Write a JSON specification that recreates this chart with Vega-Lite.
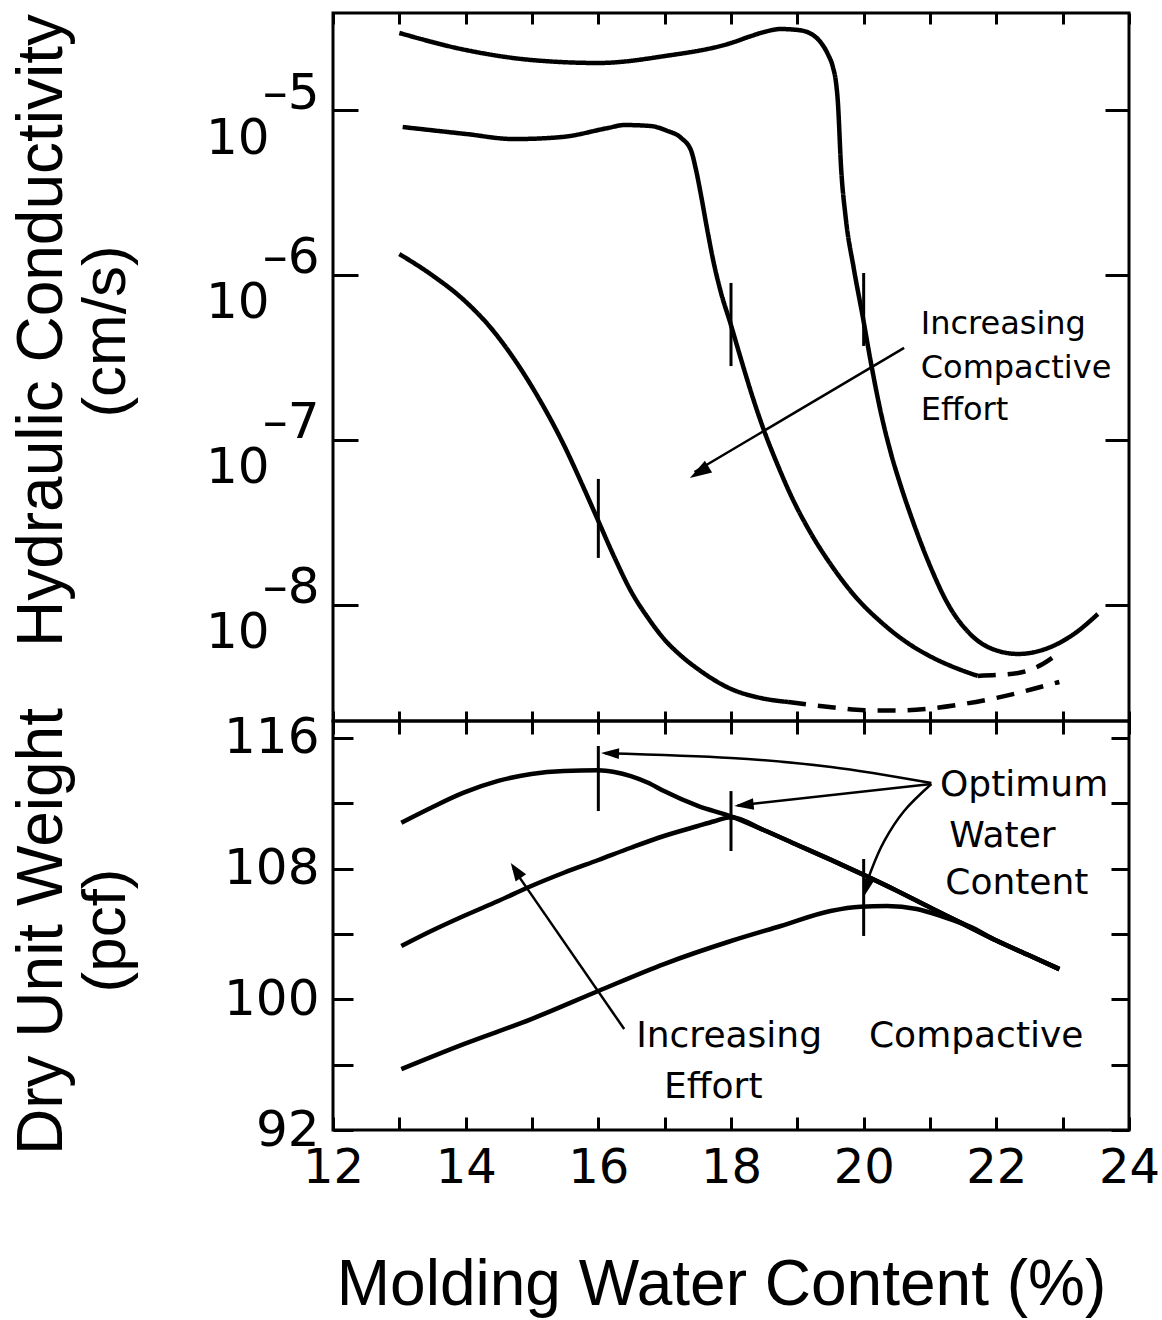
{
  "$schema": "https://vega.github.io/schema/vega-lite/v6.json",
  "padding": {"left": 8, "top": 10, "right": 10, "bottom": 5},
  "spacing": 0,
  "bounds": "flush",
  "config": {
    "view": {"stroke": "black", "strokeWidth": 3},
    "axis": {
      "domain": false, "grid": false, "tickColor": "black", "tickWidth": 3,
      "labelFont": "DejaVu Sans", "labelFontSize": 50, "labelColor": "black",
      "labelFlush": false, "labelOverlap": false, "labelBound": false,
      "titleFont": "Liberation Sans", "titleFontSize": 64, "titleFontWeight": "normal", "titleColor": "black"
    }
  },
  "datasets": {
    "kcurves": [
      {"curve": "c20", "part": "solid", "water": 13.0, "k": 2.931e-5},
      {"curve": "c20", "part": "solid", "water": 14.0, "k": 2.312e-5},
      {"curve": "c20", "part": "solid", "water": 15.0, "k": 2.009e-5},
      {"curve": "c20", "part": "solid", "water": 16.0, "k": 1.928e-5},
      {"curve": "c20", "part": "solid", "water": 17.0, "k": 2.123e-5},
      {"curve": "c20", "part": "solid", "water": 18.0, "k": 2.548e-5},
      {"curve": "c20", "part": "solid", "water": 18.3, "k": 2.805e-5},
      {"curve": "c20", "part": "solid", "water": 18.5, "k": 2.972e-5},
      {"curve": "c20", "part": "solid", "water": 18.75, "k": 3.097e-5},
      {"curve": "c20", "part": "solid", "water": 19.01, "k": 3.055e-5},
      {"curve": "c20", "part": "solid", "water": 19.21, "k": 2.891e-5},
      {"curve": "c20", "part": "solid", "water": 19.36, "k": 2.547e-5},
      {"curve": "c20", "part": "solid", "water": 19.46, "k": 2.183e-5},
      {"curve": "c20", "part": "solid", "water": 19.54, "k": 1.799e-5},
      {"curve": "c20", "part": "solid", "water": 19.58, "k": 1.5e-5},
      {"curve": "c20", "part": "solid", "water": 19.61, "k": 1.135e-5},
      {"curve": "c20", "part": "solid", "water": 19.66, "k": 4.446e-6},
      {"curve": "c20", "part": "solid", "water": 19.73, "k": 2.213e-6},
      {"curve": "c20", "part": "solid", "water": 19.85, "k": 1.102e-6},
      {"curve": "c20", "part": "solid", "water": 19.99, "k": 5.483e-7},
      {"curve": "c20", "part": "solid", "water": 20.11, "k": 2.931e-7},
      {"curve": "c20", "part": "solid", "water": 20.26, "k": 1.459e-7},
      {"curve": "c20", "part": "solid", "water": 20.41, "k": 8.337e-8},
      {"curve": "c20", "part": "solid", "water": 20.56, "k": 5.26e-8},
      {"curve": "c20", "part": "solid", "water": 20.74, "k": 3.228e-8},
      {"curve": "c20", "part": "solid", "water": 20.97, "k": 1.849e-8},
      {"curve": "c20", "part": "solid", "water": 21.27, "k": 1.014e-8},
      {"curve": "c20", "part": "solid", "water": 21.62, "k": 6.577e-9},
      {"curve": "c20", "part": "solid", "water": 22.03, "k": 5.26e-9},
      {"curve": "c20", "part": "solid", "water": 22.33, "k": 5.047e-9},
      {"curve": "c20", "part": "solid", "water": 22.78, "k": 5.483e-9},
      {"curve": "c20", "part": "solid", "water": 23.17, "k": 6.668e-9},
      {"curve": "c20", "part": "solid", "water": 23.53, "k": 8.81e-9},
      {"curve": "c18", "part": "solid", "water": 13.05, "k": 7.889e-6},
      {"curve": "c18", "part": "solid", "water": 14.0, "k": 7.161e-6},
      {"curve": "c18", "part": "solid", "water": 14.73, "k": 6.668e-6},
      {"curve": "c18", "part": "solid", "water": 15.44, "k": 6.855e-6},
      {"curve": "c18", "part": "solid", "water": 16.15, "k": 7.786e-6},
      {"curve": "c18", "part": "solid", "water": 16.39, "k": 8.11e-6},
      {"curve": "c18", "part": "solid", "water": 16.79, "k": 7.998e-6},
      {"curve": "c18", "part": "solid", "water": 17.03, "k": 7.5e-6},
      {"curve": "c18", "part": "solid", "water": 17.25, "k": 6.761e-6},
      {"curve": "c18", "part": "solid", "water": 17.4, "k": 5.649e-6},
      {"curve": "c18", "part": "solid", "water": 17.47, "k": 4.385e-6},
      {"curve": "c18", "part": "solid", "water": 17.55, "k": 3.013e-6},
      {"curve": "c18", "part": "solid", "water": 17.64, "k": 1.901e-6},
      {"curve": "c18", "part": "solid", "water": 17.74, "k": 1.183e-6},
      {"curve": "c18", "part": "solid", "water": 17.85, "k": 7.786e-7},
      {"curve": "c18", "part": "solid", "water": 17.99, "k": 5.117e-7},
      {"curve": "c18", "part": "solid", "water": 18.15, "k": 3.097e-7},
      {"curve": "c18", "part": "solid", "water": 18.33, "k": 1.799e-7},
      {"curve": "c18", "part": "solid", "water": 18.5, "k": 1.135e-7},
      {"curve": "c18", "part": "solid", "water": 18.71, "k": 6.95e-8},
      {"curve": "c18", "part": "solid", "water": 18.9, "k": 4.645e-8},
      {"curve": "c18", "part": "solid", "water": 19.21, "k": 2.692e-8},
      {"curve": "c18", "part": "solid", "water": 19.51, "k": 1.746e-8},
      {"curve": "c18", "part": "solid", "water": 19.88, "k": 1.117e-8},
      {"curve": "c18", "part": "solid", "water": 20.26, "k": 7.888e-9},
      {"curve": "c18", "part": "solid", "water": 20.64, "k": 5.97e-9},
      {"curve": "c18", "part": "solid", "water": 21.02, "k": 4.842e-9},
      {"curve": "c18", "part": "solid", "water": 21.39, "k": 4.15e-9},
      {"curve": "c18", "part": "solid", "water": 21.72, "k": 3.715e-9},
      {"curve": "c18", "part": "dashed", "water": 21.72, "k": 3.715e-9},
      {"curve": "c18", "part": "dashed", "water": 22.33, "k": 3.873e-9},
      {"curve": "c18", "part": "dashed", "water": 22.7, "k": 4.385e-9},
      {"curve": "c18", "part": "dashed", "water": 22.98, "k": 5.26e-9},
      {"curve": "c16", "part": "solid", "water": 13.0, "k": 1.34e-6},
      {"curve": "c16", "part": "solid", "water": 13.49, "k": 1.0e-6},
      {"curve": "c16", "part": "solid", "water": 13.99, "k": 6.95e-7},
      {"curve": "c16", "part": "solid", "water": 14.38, "k": 4.775e-7},
      {"curve": "c16", "part": "solid", "water": 14.73, "k": 3.097e-7},
      {"curve": "c16", "part": "solid", "water": 15.09, "k": 1.824e-7},
      {"curve": "c16", "part": "solid", "water": 15.48, "k": 9.333e-8},
      {"curve": "c16", "part": "solid", "water": 15.78, "k": 5.117e-8},
      {"curve": "c16", "part": "solid", "water": 16.0, "k": 3.228e-8},
      {"curve": "c16", "part": "solid", "water": 16.24, "k": 1.954e-8},
      {"curve": "c16", "part": "solid", "water": 16.49, "k": 1.216e-8},
      {"curve": "c16", "part": "solid", "water": 16.75, "k": 8.337e-9},
      {"curve": "c16", "part": "solid", "water": 16.99, "k": 6.223e-9},
      {"curve": "c16", "part": "solid", "water": 17.25, "k": 4.909e-9},
      {"curve": "c16", "part": "solid", "water": 17.5, "k": 4.093e-9},
      {"curve": "c16", "part": "solid", "water": 18.0, "k": 3.097e-9},
      {"curve": "c16", "part": "solid", "water": 18.45, "k": 2.729e-9},
      {"curve": "c16", "part": "solid", "water": 18.86, "k": 2.582e-9},
      {"curve": "c16", "part": "dashed", "water": 18.86, "k": 2.582e-9},
      {"curve": "c16", "part": "dashed", "water": 19.55, "k": 2.39e-9},
      {"curve": "c16", "part": "dashed", "water": 20.01, "k": 2.3e-9},
      {"curve": "c16", "part": "dashed", "water": 20.5, "k": 2.29e-9},
      {"curve": "c16", "part": "dashed", "water": 20.97, "k": 2.35e-9},
      {"curve": "c16", "part": "dashed", "water": 21.42, "k": 2.48e-9},
      {"curve": "c16", "part": "dashed", "water": 21.92, "k": 2.692e-9},
      {"curve": "c16", "part": "dashed", "water": 22.33, "k": 2.931e-9},
      {"curve": "c16", "part": "dashed", "water": 22.72, "k": 3.228e-9},
      {"curve": "c16", "part": "dashed", "water": 22.95, "k": 3.412e-9}
    ],
    "kticks": [
      {"water": 16, "k_hi": 5.807e-8, "k_lo": 1.928e-8},
      {"water": 18, "k_hi": 8.954e-7, "k_lo": 2.805e-7},
      {"water": 20, "k_hi": 1.028e-6, "k_lo": 3.715e-7}
    ],
    "ktext": [
      {"label": "Increasing", "water": 20.86, "k": 4.385e-7},
      {"label": "Compactive", "water": 20.86, "k": 2.377e-7},
      {"label": "Effort", "water": 20.86, "k": 1.321e-7}
    ],
    "karrow": [
      {"i": 0, "water": 20.61, "k": 3.614e-7},
      {"i": 1, "water": 17.45, "k": 6.4e-8}
    ],
    "khead": [
      {"water": 17.38, "k": 5.888e-8}
    ],
    "dcurves": [
      {"curve": "c16", "water": 13.03, "gamma": 110.81},
      {"curve": "c16", "water": 13.48, "gamma": 111.73},
      {"curve": "c16", "water": 13.97, "gamma": 112.65},
      {"curve": "c16", "water": 14.49, "gamma": 113.37},
      {"curve": "c16", "water": 14.99, "gamma": 113.8},
      {"curve": "c16", "water": 15.48, "gamma": 113.98},
      {"curve": "c16", "water": 16.0, "gamma": 114.02},
      {"curve": "c16", "water": 16.24, "gamma": 113.92},
      {"curve": "c16", "water": 16.49, "gamma": 113.67},
      {"curve": "c16", "water": 16.75, "gamma": 113.26},
      {"curve": "c16", "water": 16.99, "gamma": 112.75},
      {"curve": "c16", "water": 17.5, "gamma": 111.84},
      {"curve": "c16", "water": 18.0, "gamma": 111.2},
      {"curve": "c16", "water": 18.5, "gamma": 110.35},
      {"curve": "c16", "water": 19.0, "gamma": 109.45},
      {"curve": "c16", "water": 19.5, "gamma": 108.55},
      {"curve": "c16", "water": 20.0, "gamma": 107.62},
      {"curve": "c16", "water": 20.5, "gamma": 106.65},
      {"curve": "c16", "water": 21.0, "gamma": 105.62},
      {"curve": "c16", "water": 21.5, "gamma": 104.62},
      {"curve": "c16", "water": 22.0, "gamma": 103.6},
      {"curve": "c16", "water": 22.5, "gamma": 102.68},
      {"curve": "c16", "water": 22.95, "gamma": 101.85},
      {"curve": "c18", "water": 13.03, "gamma": 103.26},
      {"curve": "c18", "water": 13.48, "gamma": 104.18},
      {"curve": "c18", "water": 13.97, "gamma": 105.1},
      {"curve": "c18", "water": 14.49, "gamma": 106.02},
      {"curve": "c18", "water": 14.99, "gamma": 106.94},
      {"curve": "c18", "water": 15.48, "gamma": 107.75},
      {"curve": "c18", "water": 16.0, "gamma": 108.53},
      {"curve": "c18", "water": 16.49, "gamma": 109.28},
      {"curve": "c18", "water": 16.99, "gamma": 110.0},
      {"curve": "c18", "water": 17.5, "gamma": 110.61},
      {"curve": "c18", "water": 17.75, "gamma": 110.9},
      {"curve": "c18", "water": 18.0, "gamma": 111.15},
      {"curve": "c18", "water": 18.5, "gamma": 110.35},
      {"curve": "c18", "water": 19.0, "gamma": 109.45},
      {"curve": "c18", "water": 19.5, "gamma": 108.55},
      {"curve": "c18", "water": 20.0, "gamma": 107.62},
      {"curve": "c18", "water": 20.5, "gamma": 106.65},
      {"curve": "c18", "water": 21.0, "gamma": 105.62},
      {"curve": "c18", "water": 21.5, "gamma": 104.62},
      {"curve": "c18", "water": 22.0, "gamma": 103.6},
      {"curve": "c18", "water": 22.5, "gamma": 102.68},
      {"curve": "c18", "water": 22.95, "gamma": 101.85},
      {"curve": "c20", "water": 13.03, "gamma": 95.73},
      {"curve": "c20", "water": 13.97, "gamma": 97.26},
      {"curve": "c20", "water": 14.99, "gamma": 98.79},
      {"curve": "c20", "water": 16.0, "gamma": 100.51},
      {"curve": "c20", "water": 16.99, "gamma": 102.16},
      {"curve": "c20", "water": 18.0, "gamma": 103.57},
      {"curve": "c20", "water": 18.75, "gamma": 104.49},
      {"curve": "c20", "water": 19.5, "gamma": 105.41},
      {"curve": "c20", "water": 19.95, "gamma": 105.67},
      {"curve": "c20", "water": 20.35, "gamma": 105.71},
      {"curve": "c20", "water": 20.8, "gamma": 105.53},
      {"curve": "c20", "water": 21.2, "gamma": 105.05},
      {"curve": "c20", "water": 21.6, "gamma": 104.45},
      {"curve": "c20", "water": 22.0, "gamma": 103.6},
      {"curve": "c20", "water": 22.5, "gamma": 102.68},
      {"curve": "c20", "water": 22.95, "gamma": 101.85}
    ],
    "dticks": [
      {"water": 16, "g_hi": 115.51, "g_lo": 111.53},
      {"water": 18, "g_hi": 112.75, "g_lo": 109.08},
      {"water": 20, "g_hi": 108.59, "g_lo": 103.88}
    ],
    "dtext": [
      {"label": "Optimum", "water": 21.15, "gamma": 112.45},
      {"label": "Water", "water": 21.29, "gamma": 109.3},
      {"label": "Content", "water": 21.23, "gamma": 106.45},
      {"label": "Increasing", "water": 16.57, "gamma": 97.08},
      {"label": "Compactive", "water": 20.08, "gamma": 97.08},
      {"label": "Effort", "water": 16.99, "gamma": 93.95}
    ],
    "darrows": [
      {"arrow": "a1", "i": 0, "water": 21.02, "gamma": 113.24},
      {"arrow": "a1", "i": 1, "water": 19.51, "gamma": 114.22},
      {"arrow": "a1", "i": 2, "water": 18.0, "gamma": 114.78},
      {"arrow": "a1", "i": 3, "water": 16.1, "gamma": 115.07},
      {"arrow": "a2", "i": 0, "water": 21.02, "gamma": 113.18},
      {"arrow": "a2", "i": 1, "water": 18.1, "gamma": 111.87},
      {"arrow": "a3", "i": 0, "water": 21.02, "gamma": 113.18},
      {"arrow": "a3", "i": 1, "water": 20.61, "gamma": 111.53},
      {"arrow": "a3", "i": 2, "water": 20.31, "gamma": 109.69},
      {"arrow": "a3", "i": 3, "water": 20.11, "gamma": 107.86},
      {"arrow": "a3", "i": 4, "water": 20.01, "gamma": 106.5},
      {"arrow": "a4", "i": 0, "water": 16.39, "gamma": 98.18},
      {"arrow": "a4", "i": 1, "water": 14.72, "gamma": 108.0}
    ],
    "dheads": [
      {"arrow": "a1", "water": 16.04, "gamma": 115.08},
      {"arrow": "a2", "water": 18.05, "gamma": 111.84},
      {"arrow": "a3", "water": 19.99, "gamma": 106.2},
      {"arrow": "a4", "water": 14.68, "gamma": 108.35}
    ]
  },
  "vconcat": [
    {
      "width": 796,
      "height": 708,
      "layer": [
        {
          "data": {"name": "kcurves"},
          "mark": {"type": "line", "stroke": "black", "strokeWidth": 4.5, "interpolate": "monotone"},
          "encoding": {
            "x": {"field": "water", "type": "quantitative", "scale": {"domain": [12, 24], "nice": false},
              "axis": {"orient": "bottom", "values": [12,13,14,15,16,17,18,19,20,21,22,23,24], "labels": false, "tickSize": -10, "title": null}},
            "y": {"field": "k", "type": "quantitative", "scale": {"type": "log", "domain": [1.98e-9, 3.873e-5], "nice": false},
              "axis": {"orient": "left", "values": [1e-8, 1e-7, 1e-6, 1e-5], "tickSize": -25, "labelExpr": "'10'",
                "labelPadding": 89, "labelOffset": 28, "labelBaseline": "middle", "labelAlign": "right",
                "title": "Hydraulic Conductivity", "titleX": -323, "titleY": 317, "titleAngle": -90,
                "titleAlign": "center", "titleBaseline": "top"}},
            "detail": {"field": "curve"},
            "strokeDash": {"field": "part", "type": "nominal", "scale": {"domain": ["solid", "dashed"], "range": [[1, 0], [18, 12]]}, "legend": null}
          }
        },
        {
          "data": {"name": "kticks"},
          "mark": {"type": "rule", "stroke": "black", "strokeWidth": 3},
          "encoding": {
            "x": {"field": "water", "type": "quantitative", "scale": {"domain": [12, 24], "nice": false},
              "axis": {"orient": "top", "values": [12,13,14,15,16,17,18,19,20,21,22,23,24], "labels": false, "tickSize": -11, "title": null}},
            "y": {"field": "k_hi", "type": "quantitative", "scale": {"type": "log", "domain": [1.98e-9, 3.873e-5], "nice": false},
              "axis": {"orient": "left", "values": [1e-8, 1e-7, 1e-6, 1e-5], "ticks": false, "tickSize": 0,
                "labelExpr": "datum.value > 5e-6 ? '–5' : datum.value > 5e-7 ? '–6' : datum.value > 5e-8 ? '–7' : '–8'",
                "labelPadding": 14, "labelOffset": -17, "labelBaseline": "middle", "labelAlign": "right",
                "title": "(cm/s)", "titleFontSize": 62, "titleX": -258, "titleY": 318, "titleAngle": -90,
                "titleAlign": "center", "titleBaseline": "top"}},
            "y2": {"field": "k_lo"}
          }
        },
        {
          "data": {"name": "ktext"},
          "mark": {"type": "text", "font": "DejaVu Sans", "fontSize": 32, "align": "left", "baseline": "alphabetic", "fill": "black"},
          "encoding": {
            "x": {"field": "water", "type": "quantitative", "scale": {"domain": [12, 24], "nice": false}, "axis": null},
            "y": {"field": "k", "type": "quantitative", "scale": {"type": "log", "domain": [1.98e-9, 3.873e-5], "nice": false},
              "axis": {"orient": "right", "values": [1e-8, 1e-7, 1e-6, 1e-5], "labels": false, "tickSize": -24, "title": null}},
            "text": {"field": "label"}
          }
        },
        {
          "data": {"name": "karrow"},
          "mark": {"type": "line", "stroke": "black", "strokeWidth": 2.5},
          "encoding": {
            "x": {"field": "water", "type": "quantitative", "scale": {"domain": [12, 24], "nice": false}, "axis": null},
            "y": {"field": "k", "type": "quantitative", "scale": {"type": "log", "domain": [1.98e-9, 3.873e-5], "nice": false}, "axis": null},
            "order": {"field": "i"}
          }
        },
        {
          "data": {"name": "khead"},
          "mark": {"type": "point", "shape": "M0,0L-0.32,1L0.32,1Z", "filled": true, "color": "black", "opacity": 1, "size": 1900, "angle": 238.7, "strokeWidth": 0},
          "encoding": {
            "x": {"field": "water", "type": "quantitative", "scale": {"domain": [12, 24], "nice": false}, "axis": null},
            "y": {"field": "k", "type": "quantitative", "scale": {"type": "log", "domain": [1.98e-9, 3.873e-5], "nice": false}, "axis": null}
          }
        }
      ],
      "resolve": {"axis": {"x": "independent", "y": "independent"}}
    },
    {
      "width": 796,
      "height": 409,
      "layer": [
        {
          "data": {"name": "dcurves"},
          "mark": {"type": "line", "stroke": "black", "strokeWidth": 4.5, "interpolate": "monotone"},
          "encoding": {
            "x": {"field": "water", "type": "quantitative", "scale": {"domain": [12, 24], "nice": false},
              "axis": {"orient": "bottom", "values": [12,13,14,15,16,17,18,19,20,21,22,23,24], "tickSize": -13,
                "labelExpr": "datum.value % 2 == 0 ? datum.label : ''", "labelPadding": 27, "labelFontSize": 48, "labelBaseline": "top",
                "title": "Molding Water Content (%)", "titleX": 388, "titleY": 174, "titleAlign": "center", "titleBaseline": "alphabetic", "titleAngle": 0}},
            "y": {"field": "gamma", "type": "quantitative", "scale": {"domain": [92, 117.04], "nice": false, "zero": false},
              "axis": {"orient": "left", "values": [92, 96, 100, 104, 108, 112, 116], "tickSize": -20,
                "labelExpr": "datum.value % 8 == 4 ? datum.label : ''", "labelPadding": 34, "labelBaseline": "middle", "labelAlign": "right",
                "title": "Dry Unit Weight", "titleX": -323, "titleY": 210, "titleAngle": -90,
                "titleAlign": "center", "titleBaseline": "top"}},
            "detail": {"field": "curve"}
          }
        },
        {
          "data": {"name": "dticks"},
          "mark": {"type": "rule", "stroke": "black", "strokeWidth": 3},
          "encoding": {
            "x": {"field": "water", "type": "quantitative", "scale": {"domain": [12, 24], "nice": false},
              "axis": {"orient": "top", "values": [12,13,14,15,16,17,18,19,20,21,22,23,24], "labels": false, "tickSize": -13, "title": null}},
            "y": {"field": "g_hi", "type": "quantitative", "scale": {"domain": [92, 117.04], "nice": false, "zero": false},
              "axis": {"orient": "right", "values": [92, 96, 100, 104, 108, 112, 116], "labels": false, "tickSize": -18, "title": null}},
            "y2": {"field": "g_lo"}
          }
        },
        {
          "data": {"name": "dtext"},
          "mark": {"type": "text", "font": "DejaVu Sans", "fontSize": 36, "align": "left", "baseline": "alphabetic", "fill": "black"},
          "encoding": {
            "x": {"field": "water", "type": "quantitative", "scale": {"domain": [12, 24], "nice": false}, "axis": null},
            "y": {"field": "gamma", "type": "quantitative", "scale": {"domain": [92, 117.04], "nice": false, "zero": false},
              "axis": {"orient": "left", "ticks": false, "labels": false, "tickSize": 0,
                "title": "(pcf)", "titleFontSize": 62, "titleX": -258, "titleY": 209, "titleAngle": -90,
                "titleAlign": "center", "titleBaseline": "top"}},
            "text": {"field": "label"}
          }
        },
        {
          "data": {"name": "darrows"},
          "mark": {"type": "line", "stroke": "black", "strokeWidth": 2.5, "interpolate": "cardinal"},
          "encoding": {
            "x": {"field": "water", "type": "quantitative", "scale": {"domain": [12, 24], "nice": false}, "axis": null},
            "y": {"field": "gamma", "type": "quantitative", "scale": {"domain": [92, 117.04], "nice": false, "zero": false}, "axis": null},
            "detail": {"field": "arrow"},
            "order": {"field": "i"}
          }
        },
        {
          "data": {"name": "dheads"},
          "transform": [{"filter": "datum.arrow == 'a1'"}],
          "mark": {"type": "point", "shape": "M0,0L-0.3,1L0.3,1Z", "filled": true, "color": "black", "opacity": 1, "size": 1300, "angle": 272, "strokeWidth": 0},
          "encoding": {
            "x": {"field": "water", "type": "quantitative", "scale": {"domain": [12, 24], "nice": false}, "axis": null},
            "y": {"field": "gamma", "type": "quantitative", "scale": {"domain": [92, 117.04], "nice": false, "zero": false}, "axis": null}
          }
        },
        {
          "data": {"name": "dheads"},
          "transform": [{"filter": "datum.arrow == 'a2'"}],
          "mark": {"type": "point", "shape": "M0,0L-0.3,1L0.3,1Z", "filled": true, "color": "black", "opacity": 1, "size": 1500, "angle": 264, "strokeWidth": 0},
          "encoding": {
            "x": {"field": "water", "type": "quantitative", "scale": {"domain": [12, 24], "nice": false}, "axis": null},
            "y": {"field": "gamma", "type": "quantitative", "scale": {"domain": [92, 117.04], "nice": false, "zero": false}, "axis": null}
          }
        },
        {
          "data": {"name": "dheads"},
          "transform": [{"filter": "datum.arrow == 'a3'"}],
          "mark": {"type": "point", "shape": "M0,0L-0.3,1L0.3,1Z", "filled": true, "color": "black", "opacity": 1, "size": 1500, "angle": 196, "strokeWidth": 0},
          "encoding": {
            "x": {"field": "water", "type": "quantitative", "scale": {"domain": [12, 24], "nice": false}, "axis": null},
            "y": {"field": "gamma", "type": "quantitative", "scale": {"domain": [92, 117.04], "nice": false, "zero": false}, "axis": null}
          }
        },
        {
          "data": {"name": "dheads"},
          "transform": [{"filter": "datum.arrow == 'a4'"}],
          "mark": {"type": "point", "shape": "M0,0L-0.35,1L0.35,1Z", "filled": true, "color": "black", "opacity": 1, "size": 1300, "angle": 326, "strokeWidth": 0},
          "encoding": {
            "x": {"field": "water", "type": "quantitative", "scale": {"domain": [12, 24], "nice": false}, "axis": null},
            "y": {"field": "gamma", "type": "quantitative", "scale": {"domain": [92, 117.04], "nice": false, "zero": false}, "axis": null}
          }
        }
      ],
      "resolve": {"axis": {"x": "independent", "y": "independent"}}
    }
  ]
}
